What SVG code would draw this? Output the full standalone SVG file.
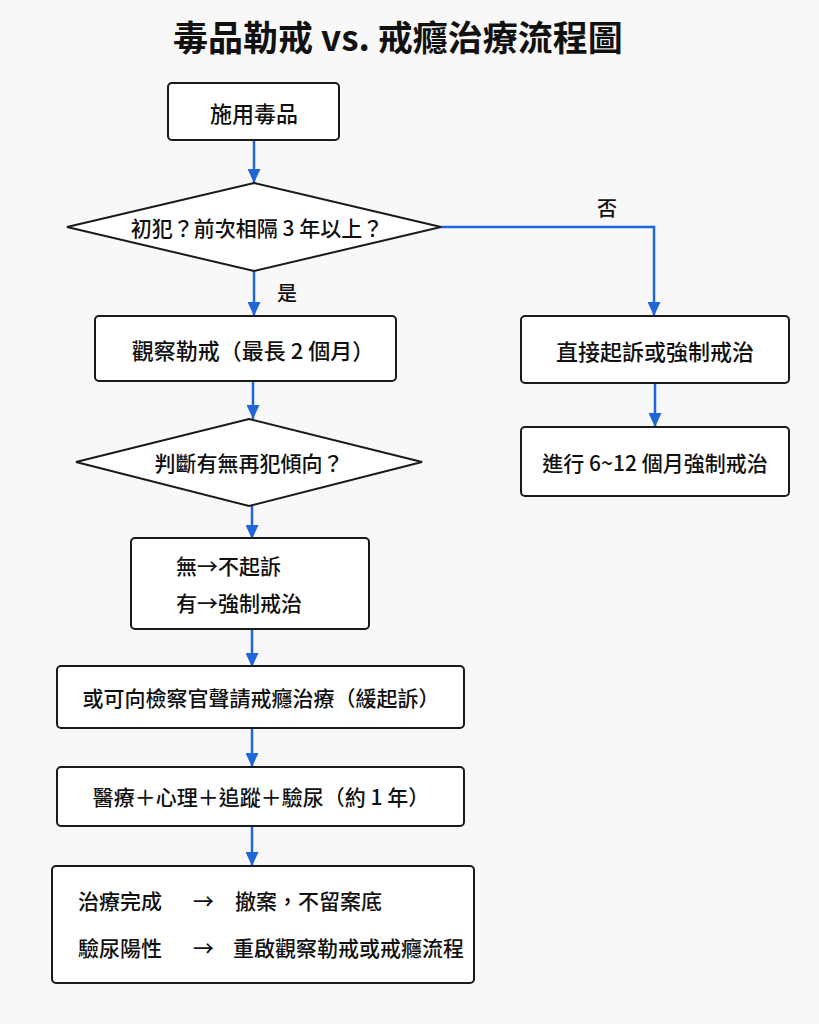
<svg xmlns="http://www.w3.org/2000/svg" width="819" height="1024" viewBox="0 0 819 1024">
<defs>
<marker id="ah" viewBox="0 0 14 13" refX="14" refY="6.5" markerWidth="14" markerHeight="13" markerUnits="userSpaceOnUse" orient="auto">
<path d="M0,0 L14,6.5 L0,13 Z" fill="#1f66d9"/>
</marker>
<style>
.bx{fill:#ffffff;stroke:#1a1a1a;stroke-width:2}
.t{font-family:"Noto Sans CJK TC","Noto Sans CJK SC","Noto Sans",sans-serif;font-size:21px;font-weight:500;fill:#111;dominant-baseline:central}
.c{text-anchor:middle}
.ln{fill:none;stroke:#1f66d9;stroke-width:2.5;marker-end:url(#ah)}
</style>
</defs>
<rect width="819" height="1024" fill="#f8f8f8"/>
<text x="398" y="35" class="t c" style="font-size:35px;font-weight:700">毒品勒戒 vs. 戒癮治療流程圖</text>
<g id="connectors">
<path class="ln" d="M254,141 L254,183"/>
<path class="ln" d="M441,227 L654,227 L654,316"/>
<path class="ln" d="M254,271 L254,316"/>
<path class="ln" d="M655,383 L655,427"/>
<path class="ln" d="M253,381 L253,419"/>
<path class="ln" d="M252,506 L252,539"/>
<path class="ln" d="M252,629 L252,667"/>
<path class="ln" d="M252,728 L252,767"/>
<path class="ln" d="M252,826 L252,866"/>
<text x="607" y="207" class="t c" style="font-size:20px">否</text>
<text x="287" y="292" class="t c" style="font-size:20px">是</text>
</g>
<g id="start"><rect class="bx" x="168" y="83" width="171" height="57" rx="4"/><text x="254" y="112" class="t c" style="font-size:22px">施用毒品</text></g>
<g id="d1"><polygon class="bx" points="254,183 441,227 254,271 67,227"/><text x="257" y="227" class="t c">初犯？前次相隔 3 年以上？</text></g>
<g id="observe"><rect class="bx" x="95" y="316" width="301" height="65" rx="4"/><text x="253" y="349" class="t c" style="font-size:22px">觀察勒戒（最長 2 個月）</text></g>
<g id="prosecute"><rect class="bx" x="521" y="316" width="268" height="67" rx="4"/><text x="655" y="350" class="t c" style="font-size:22px">直接起訴或強制戒治</text></g>
<g id="forced"><rect class="bx" x="521" y="427" width="268" height="69" rx="4"/><text x="655" y="462" class="t c">進行 6~12 個月強制戒治</text></g>
<g id="d2"><polygon class="bx" points="249,419 422,462 249,506 76,462"/><text x="249" y="462" class="t c">判斷有無再犯傾向？</text></g>
<g id="result"><rect class="bx" x="131" y="538" width="238" height="91" rx="4"/><text x="176" y="565" class="t">無→不起訴</text><text x="176" y="602" class="t">有→強制戒治</text></g>
<g id="apply"><rect class="bx" x="57" y="666" width="407" height="62" rx="4"/><text x="261" y="697" class="t c">或可向檢察官聲請戒癮治療（緩起訴）</text></g>
<g id="treat"><rect class="bx" x="57" y="767" width="407" height="59" rx="4"/><text x="261" y="796" class="t c">醫療＋心理＋追蹤＋驗尿（約 1 年）</text></g>
<g id="outcome"><rect class="bx" x="52" y="866" width="422" height="117" rx="4"/>
<text x="78" y="900" class="t">治療完成</text><text x="193" y="900" class="t">→</text><text x="235" y="900" class="t">撤案，不留案底</text>
<text x="78" y="947" class="t">驗尿陽性</text><text x="193" y="947" class="t">→</text><text x="233" y="947" class="t">重啟觀察勒戒或戒癮流程</text>
</g>
</svg>
